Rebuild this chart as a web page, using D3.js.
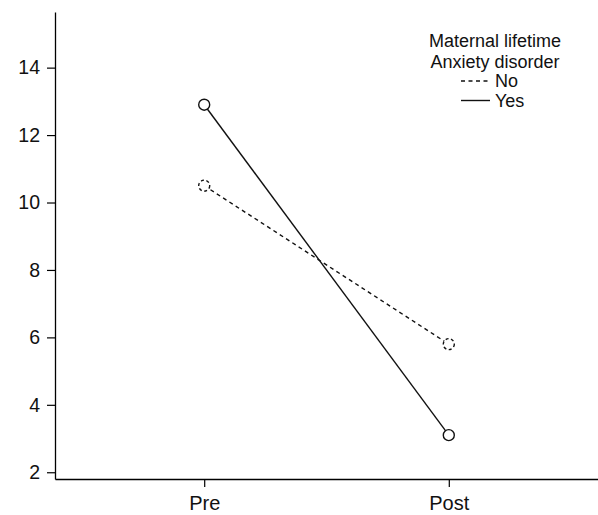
<!DOCTYPE html>
<html>
<head>
<meta charset="utf-8">
<script src="https://cdn.jsdelivr.net/npm/d3@7"></script>
<style>
  body { margin: 0; background: #fff; }
  svg { display: block; font-family: "Liberation Sans", Arial, sans-serif; }
</style>
</head>
<body>
<div id="chart"></div>
<script>
// dados
const momentos = ["Pre", "Post"];
const serieNao = [10.5, 5.8];   // No
const serieSim = [12.9, 3.1];   // Yes
const ticksY = [2, 4, 6, 8, 10, 12, 14];
const tituloLegenda = ["Maternal lifetime", "Anxiety disorder"];
const grupos = ["No", "Yes"];

const largura = 598, altura = 515;
const esq = 55, dir = 598, topo = 12, base = 479;

const svg = d3.select("#chart").append("svg")
  .attr("width", largura).attr("height", altura);

const x = d3.scalePoint().domain(momentos).range([esq, dir]).padding(0.61);
const y = d3.scaleLinear().domain([1.8, 15.65]).range([base, topo]);

// eixo Y
const eixoY = svg.append("g")
  .attr("transform", `translate(${esq},0)`)
  .call(d3.axisLeft(y).tickValues(ticksY).tickSize(8).tickSizeOuter(0).tickPadding(7));
eixoY.select(".domain").attr("stroke-width", 1.3);
eixoY.selectAll(".tick line").attr("stroke-width", 1.2);
eixoY.selectAll("text").style("font-size", "19.5px").attr("fill", "#111");

// eixo X
const eixoX = svg.append("g")
  .attr("transform", `translate(0,${base})`)
  .call(d3.axisBottom(x).tickSize(8).tickSizeOuter(0).tickPadding(9));
eixoX.select(".domain").attr("stroke-width", 1.3);
eixoX.selectAll(".tick line").attr("stroke-width", 1.2);
eixoX.selectAll("text").style("font-size", "20px").attr("fill", "#111");

const series = [
  { nome: "No", valores: serieNao, dash: "4,3.5" },
  { nome: "Yes", valores: serieSim, dash: null }
];

const linha = d3.line()
  .x((d, i) => x(momentos[i]))
  .y(d => y(d));

series.forEach(s => {
  svg.append("path")
    .datum(s.valores)
    .attr("d", linha)
    .attr("fill", "none")
    .attr("stroke", "#111")
    .attr("stroke-width", 1.4)
    .attr("stroke-dasharray", s.dash);

  svg.selectAll(null)
    .data(s.valores)
    .join("circle")
    .attr("cx", (d, i) => x(momentos[i]))
    .attr("cy", d => y(d))
    .attr("r", 5.5)
    .attr("fill", "#fff")
    .attr("stroke", "#111")
    .attr("stroke-width", 1.4)
    .attr("stroke-dasharray", s.dash ? "3,2.5" : null);
});

// legenda
const legenda = svg.append("g").attr("transform", "translate(495,0)");
tituloLegenda.forEach((t, i) => {
  legenda.append("text")
    .attr("x", 0).attr("y", 47 + i * 20.5)
    .attr("text-anchor", "middle")
    .style("font-size", "18px")
    .attr("fill", "#111")
    .text(t);
});
grupos.forEach((g, i) => {
  const yy = 87 + i * 19.5;
  legenda.append("line")
    .attr("x1", -34).attr("x2", -5)
    .attr("y1", yy - 6).attr("y2", yy - 6)
    .attr("stroke", "#111").attr("stroke-width", 1.4)
    .attr("stroke-dasharray", series[i].dash);
  legenda.append("text")
    .attr("x", 0).attr("y", yy)
    .style("font-size", "18px")
    .attr("fill", "#111")
    .text(g);
});
</script>
</body>
</html>
